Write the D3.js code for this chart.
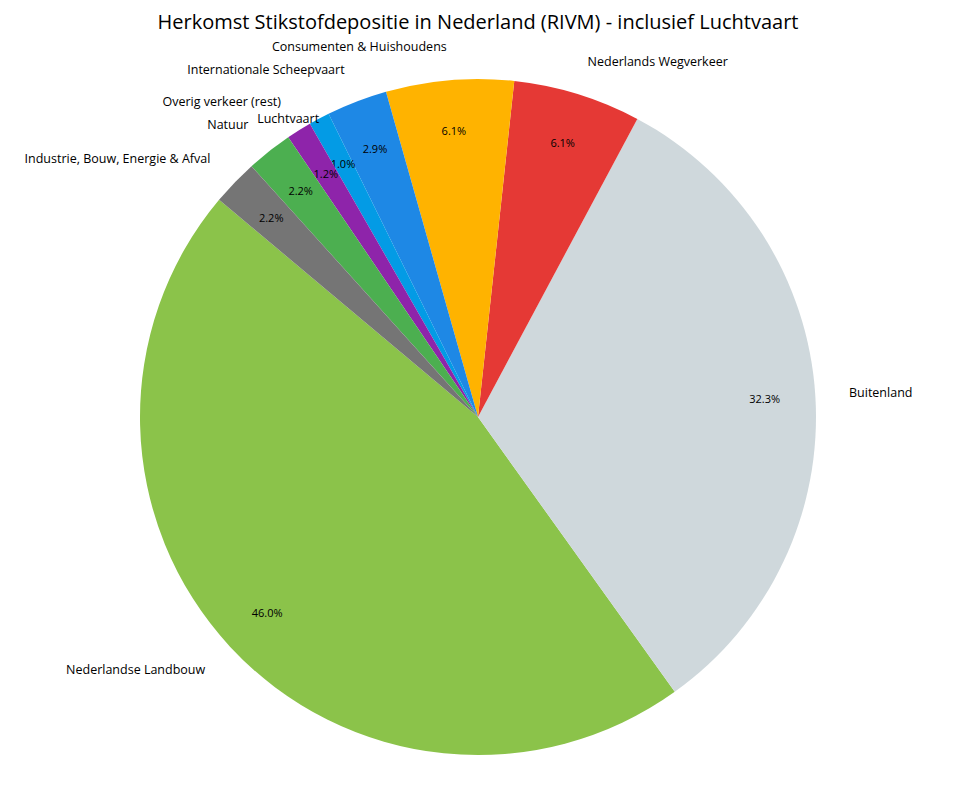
<!DOCTYPE html>
<html>
<head>
<meta charset="utf-8">
<script src="https://cdn.jsdelivr.net/npm/d3@7"></script>
<style>
body { margin: 0; background: #fff; }
text { font-family: "Open Sans", "Noto Sans", sans-serif; }
</style>
</head>
<body>
<div id="chart"></div>
<script>
// DATA
const categories = ["Nederlandse Landbouw", "Buitenland", "Nederlands Wegverkeer", "Consumenten & Huishoudens",
    "Internationale Scheepvaart", "Luchtvaart", "Overig verkeer (rest)", "Natuur", "Industrie, Bouw, Energie & Afval"];
const values = [46.0, 32.3, 6.1, 6.1, 2.9, 1.0, 1.2, 2.2, 2.2];
const colors = ["#8BC34A", "#CFD8DC", "#E53935", "#FFB300", "#1E88E5", "#039BE5", "#8E24AA", "#4CAF50", "#757575"];

// CONFIGURATION
const width = 956, height = 790;
const cx = 478, cy = 417, r = 338;
const startAngle = 140; // graden, tegen de klok in (matplotlib-stijl)

const svg = d3.select("#chart").append("svg")
    .attr("width", width).attr("height", height);

svg.append("text")
    .attr("x", width / 2).attr("y", 29)
    .attr("text-anchor", "middle")
    .style("font-size", "20px")
    .text("Herkomst Stikstofdepositie in Nederland (RIVM) - inclusief Luchtvaart");

const total = d3.sum(values);
const toDeg = d3.scaleLinear().domain([0, total]).range([0, 360]);

// d3.arc: 0 = boven, met de klok mee. Omrekenen vanuit wiskundige hoek.
const rad = a => (90 - a) * Math.PI / 180;
const arc = d3.arc().innerRadius(0).outerRadius(r);
const g = svg.append("g").attr("transform", `translate(${cx},${cy})`);

let cum = 0;
values.forEach((v, i) => {
    const a0 = startAngle + toDeg(cum);
    const a1 = a0 + toDeg(v);
    cum += v;
    g.append("path")
        .attr("d", arc({ startAngle: rad(a1), endAngle: rad(a0) }))
        .style("fill", colors[i]);

    const mid = (a0 + a1) / 2 * Math.PI / 180;
    const cos = Math.cos(mid), sin = Math.sin(mid);
    const ld = categories[i] === "Luchtvaart" ? 1.0 : 1.1;

    g.append("text")
        .attr("x", ld * r * cos).attr("y", -ld * r * sin)
        .attr("text-anchor", cos < 0 ? "end" : "start")
        .attr("dominant-baseline", "central")
        .style("font-size", "12.5px")
        .text(categories[i]);

    g.append("text")
        .attr("x", 0.85 * r * cos).attr("y", -0.85 * r * sin)
        .attr("text-anchor", "middle")
        .attr("dominant-baseline", "central")
        .style("font-size", "11px")
        .text(v.toFixed(1) + "%");
});
</script>
</body>
</html>
